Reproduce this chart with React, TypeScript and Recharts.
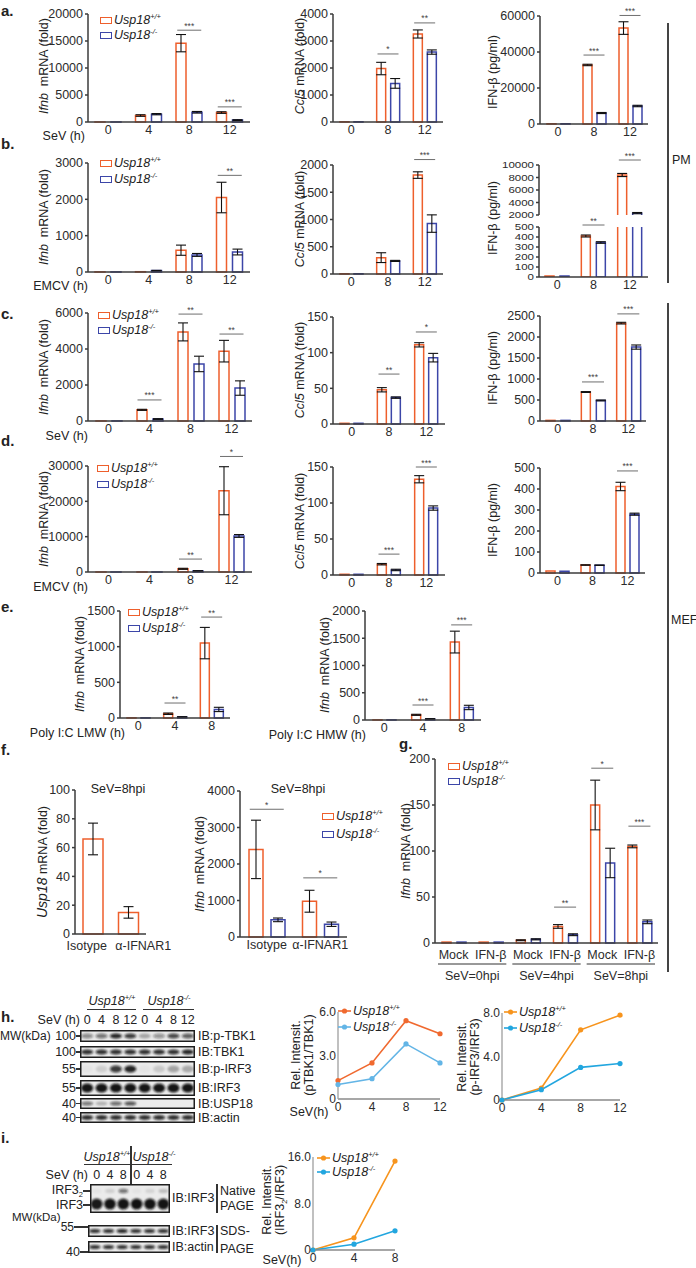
import React from 'react';
import { BarChart, Bar, XAxis, YAxis, ErrorBar, ReferenceArea, LineChart, Line } from 'recharts';

const FONT = '"Liberation Sans", Arial, Helvetica, sans-serif';
const OR = '#EE5F2C';
const BL = '#3C46A8';
const AX = '#3b3b3b';

// ---------------- data ----------------
const cat4 = ['0', '4', '8', '12'];
const cat3 = ['0', '8', '12'];
const catE = ['0', '4', '8'];

const a1Wt = [3, 1200, 14600, 1750];
const a1Ko = [3, 1450, 1800, 350];
const a1EWt = [0, 150, 1600, 150];
const a1EKo = [0, 120, 150, 80];
const a1Sig = ['', '', '***', '***'];
const a1SigY = [0, 0, 17000, 2800];
const a1Ticks = [0, 5000, 10000, 15000, 20000];

const a2Wt = [8, 1980, 3260];
const a2Ko = [8, 1430, 2590];
const a2EWt = [0, 230, 150];
const a2EKo = [0, 180, 80];
const a2Sig = ['', '*', '**'];
const a2SigY = [0, 2520, 3670];
const a2Ticks = [0, 1000, 2000, 3000, 4000];

const a3Wt = [150, 32800, 53300];
const a3Ko = [150, 6100, 10000];
const a3EWt = [0, 400, 3500];
const a3EKo = [0, 300, 400];
const a3Sig = ['', '***', '***'];
const a3SigY = [0, 38300, 60300];
const a3Ticks = [0, 20000, 40000, 60000];

const b1Wt = [3, 8, 600, 2050];
const b1Ko = [3, 40, 470, 550];
const b1EWt = [0, 0, 140, 420];
const b1EKo = [0, 5, 40, 80];
const b1Sig = ['', '', '', '**'];
const b1SigY = [0, 0, 0, 2660];
const b1Ticks = [0, 1000, 2000, 3000];

const b2Wt = [5, 300, 1815];
const b2Ko = [5, 240, 925];
const b2EWt = [0, 90, 60];
const b2EKo = [0, 10, 160];
const b2Sig = ['', '', '***'];
const b2SigY = [0, 0, 2100];
const b2Ticks = [0, 500, 1000, 1500, 2000];

const b3Wt = [10, 410, 8400];
const b3Ko = [10, 345, 2300];
const b3EWt = [0, 10, 250];
const b3EKo = [0, 8, 100];
const b3SigLow = ['', '**', ''];
const b3SigLowY = [0, 520, 0];
const b3SigUp = ['', '', '***'];
const b3SigUpY = [0, 0, 10800];
const b3TicksLow = [0, 100, 200, 300, 400, 500];
const b3TicksUp = [2000, 4000, 6000, 8000, 10000];
const b3Break = 2000;

const c1Wt = [3, 620, 4950, 3880];
const c1Ko = [3, 110, 3170, 1830];
const c1EWt = [0, 30, 500, 600];
const c1EKo = [0, 20, 430, 400];
const c1Sig = ['', '***', '**', '**'];
const c1SigY = [0, 1170, 5940, 4830];
const c1Ticks = [0, 2000, 4000, 6000];

const c2Wt = [1, 48, 111];
const c2Ko = [1, 37, 93];
const c2EWt = [0, 3, 3];
const c2EKo = [0, 1, 6];
const c2Sig = ['', '**', '*'];
const c2SigY = [0, 70, 129];
const c2Ticks = [0, 50, 100, 150];

const c3Wt = [15, 690, 2330];
const c3Ko = [15, 490, 1760];
const c3EWt = [0, 10, 20];
const c3EKo = [0, 10, 50];
const c3Sig = ['', '***', '***'];
const c3SigY = [0, 930, 2550];
const c3Ticks = [0, 500, 1000, 1500, 2000, 2500];

const d1Wt = [3, 3, 900, 23000];
const d1Ko = [3, 3, 300, 10200];
const d1EWt = [0, 0, 150, 6800];
const d1EKo = [0, 0, 80, 400];
const d1Sig = ['', '', '**', '*'];
const d1SigY = [0, 0, 3660, 32700];
const d1Ticks = [0, 10000, 20000, 30000];

const d2Wt = [1, 15, 133];
const d2Ko = [1, 7, 93];
const d2EWt = [0, 1, 5];
const d2EKo = [0, 1, 3];
const d2Sig = ['', '***', '***'];
const d2SigY = [0, 29, 150];
const d2Ticks = [0, 50, 100, 150];

const d3Wt = [10, 38, 412];
const d3Ko = [8, 37, 280];
const d3EWt = [0, 1, 20];
const d3EKo = [0, 1, 5];
const d3Sig = ['', '', '***'];
const d3SigY = [0, 0, 486];
const d3Ticks = [0, 100, 200, 300, 400, 500];

const e1Wt = [2, 60, 1050];
const e1Ko = [2, 15, 120];
const e1EWt = [0, 10, 220];
const e1EKo = [0, 3, 30];
const e1Sig = ['', '**', '**'];
const e1SigY = [0, 210, 1415];
const e1Ticks = [0, 500, 1000, 1500];

const e2Wt = [2, 95, 1430];
const e2Ko = [2, 20, 230];
const e2EWt = [0, 10, 200];
const e2EKo = [0, 5, 40];
const e2Sig = ['', '***', '***'];
const e2SigY = [0, 275, 1745];
const e2Ticks = [0, 500, 1000, 1500, 2000];

const fCats = ['Isotype', 'α-IFNAR1'];
const f1Val = [66, 15];
const f1Err = [11, 4];
const f1Ticks = [0, 20, 40, 60, 80, 100];

const f2Wt = [2400, 980];
const f2Ko = [470, 350];
const f2EWt = [800, 300];
const f2EKo = [50, 60];
const f2Sig = ['*', '*'];
const f2SigY = [3500, 1620];
const f2Ticks = [0, 1000, 2000, 3000, 4000];

const gKeys = ['M0', 'I0', 'M4', 'I4', 'M8', 'I8'];
const gLabels = ['Mock', 'IFN-β', 'Mock', 'IFN-β', 'Mock', 'IFN-β'];
const gGroups = ['SeV=0hpi', 'SeV=4hpi', 'SeV=8hpi'];
const gWt = [1, 1, 3, 18, 150, 105];
const gKo = [1, 1, 4, 9, 87, 23];
const gEWt = [0, 0, 0.5, 2, 27, 1.5];
const gEKo = [0, 0, 0.6, 1, 16, 2];
const gSig = ['', '', '', '**', '*', '***'];
const gSigY = [0, 0, 0, 39, 190, 127];
const gTicks = [0, 50, 100, 150, 200];

const hX = [0, 4, 8, 12];
const h1Wt = [1.27, 2.49, 5.4, 4.5];
const h1Ko = [1.0, 1.4, 3.8, 2.49];
const h2Wt = [0, 1.1, 6.45, 7.8];
const h2Ko = [0, 0.95, 3.0, 3.35];
const iX = [0, 4, 8];
const iWt = [0, 2.1, 15.3];
const iKo = [0, 1.0, 3.3];

const hLanes = ['0', '4', '8', '12', '0', '4', '8', '12'];
const hPTBK1 = [0.45, 0.55, 0.9, 0.8, 0.3, 0.4, 0.75, 0.65];
const hTBK1 = [0.85, 0.85, 0.85, 0.85, 0.85, 0.85, 0.85, 0.9];
const hPIRF3 = [0.03, 0.12, 0.8, 0.9, 0.03, 0.15, 0.3, 0.28];
const hIRF3 = [0.97, 0.97, 0.97, 0.97, 0.97, 0.97, 0.97, 0.97];
const hUSP18 = [0.55, 0.25, 0.6, 0.7, 0, 0, 0, 0];
const hActin = [0.85, 0.85, 0.85, 0.85, 0.85, 0.85, 0.85, 0.85];
const hRowLabels = ['IB:p-TBK1', 'IB:TBK1', 'IB:p-IRF3', 'IB:IRF3', 'IB:USP18', 'IB:actin'];
const hRowMW = ['100', '100', '55', '55', '40', '40'];
const hRowVals = [hPTBK1, hTBK1, hPIRF3, hIRF3, hUSP18, hActin];

const iLanes = ['0', '4', '8', '0', '4', '8'];
const iDimer = [0.04, 0.12, 0.55, 0.04, 0.1, 0.2];
const iMono = [0.95, 0.97, 0.97, 0.98, 0.97, 0.97];
const iSdsIRF3 = [0.85, 0.85, 0.9, 0.85, 0.85, 0.85];
const iSdsActin = [0.85, 0.85, 0.85, 0.85, 0.85, 0.85];

// ---------------- helpers ----------------
function Txt({ x, y, children, a = 'l', s = 12.5, b = false, it = false, rot = false, c = '#222', center = false }: any) {
  const tx = a === 'l' ? '0' : a === 'm' ? '-50%' : '-100%';
  const style: any = {
    position: 'absolute', left: x, top: y,
    transform: rot ? 'translate(-50%,-50%) rotate(-90deg)' : `translate(${tx},-50%)`,
    fontSize: s, fontWeight: b ? 700 : 400, fontStyle: it ? 'italic' : 'normal',
    whiteSpace: 'nowrap', lineHeight: center ? '13px' : 1, color: c, fontFamily: FONT,
    textAlign: center ? 'center' : 'left',
  };
  return <div style={style}>{children}</div>;
}

function Sup({ children }: any) {
  return <sup style={{ fontSize: '0.6em', verticalAlign: 'top', position: 'relative', top: '-0.15em' }}>{children}</sup>;
}

function Usp({ g }: any) {
  return <span><i>Usp18</i><Sup><i>{g}</i></Sup></span>;
}

function LegendItem({ x, y, color, g }: any) {
  return (
    <div style={{ position: 'absolute', left: x, top: y - 8, height: 16, display: 'flex', alignItems: 'center', fontFamily: FONT, fontSize: 12.5, color: '#222', whiteSpace: 'nowrap' }}>
      <div style={{ width: 10, height: 5, border: `1.5px solid ${color}`, background: '#fff', marginRight: 2 }} />
      <Usp g={g} />
    </div>
  );
}

function LineLegendItem({ x, y, color, g }: any) {
  return (
    <div style={{ position: 'absolute', left: x, top: y - 8, height: 16, display: 'flex', alignItems: 'center', fontFamily: FONT, fontSize: 12.5, color: '#222', whiteSpace: 'nowrap' }}>
      <svg width={13} height={8} style={{ marginRight: 2 }}>
        <line x1={0} x2={13} y1={4} y2={4} stroke={color} strokeWidth={1.6} />
        <circle cx={6.5} cy={4} r={2.6} fill={color} />
      </svg>
      <Usp g={g} />
    </div>
  );
}

function HLine({ x1, x2, y, c = '#333', w = 1 }: any) {
  return <div style={{ position: 'absolute', left: x1, top: y - w / 2, width: x2 - x1, height: w, background: c }} />;
}
function VLine({ x, y1, y2, c = '#333', w = 1 }: any) {
  return <div style={{ position: 'absolute', left: x - w / 2, top: y1, width: w, height: y2 - y1, background: c }} />;
}

const axisTick = { fontSize: 12.5, fill: '#2b2b2b', fontFamily: FONT };

// condensed y ticks for the crowded broken axis
const condTick = (t: any) => (
  <text x={t.x} y={t.y} textAnchor="end" dominantBaseline="central" fontSize={11.5} fill="#2b2b2b" fontFamily={FONT}
    transform={`translate(0,${t.y}) scale(1,0.78) translate(0,${-t.y})`}>
    {t.payload?.value}
  </text>
);

function BarPanel(p: any) {
  const YW = 56, MT = 24;
  const MR = p.mr ?? 8;
  const MB = p.hideX ? 10 : 0;
  const XH = p.hideX ? 0 : (p.xh ?? 22);
  const W = p.x1 - p.x0 + YW + MR;
  const H = p.y0 - p.yT + MT + XH + MB;
  const data = p.cats.map((c: string, i: number) => ({
    c,
    wt: p.wt[i],
    ko: p.ko ? p.ko[i] : null,
    ewt: p.ewt ? p.ewt[i] : null,
    eko: p.eko ? p.eko[i] : null,
  }));
  const gw = p.ko ? 2 * p.bs + p.gap : p.bs;
  const sigShape = (txt: string) => (r: any) => {
    const cx = r.x + r.width / 2;
    const yy = r.y;
    return (
      <g>
        <line x1={cx - gw / 2 + 1} x2={cx + gw / 2 - 1} y1={yy} y2={yy} stroke="#6e6e6e" strokeWidth={1} />
        <text x={cx} y={yy - 1.5} textAnchor="middle" fontSize={8.5} fill="#444" fontFamily={FONT}>{txt}</text>
      </g>
    );
  };
  const openShape = (color: string) => (r: any) => {
    let { x, y, width, height } = r;
    if (height == null || isNaN(height)) return <g />;
    if (height < 0) { y += height; height = -height; }
    return <path d={`M${x},${y + height} V${y} H${x + width} V${y + height}`} fill="#fff" stroke={color} strokeWidth={1.5} />;
  };
  return (
    <div style={{ position: 'absolute', left: p.x0 - YW, top: p.yT - MT }}>
      <BarChart width={W} height={H} data={data} margin={{ top: MT, right: MR, left: 0, bottom: MB }} barGap={p.gap} barSize={p.bs}>
        <XAxis dataKey="c" hide={!!p.hideX} height={XH || 1} interval={0} tickLine={false} tickSize={0} tickMargin={3}
          axisLine={{ stroke: AX, strokeWidth: 1.5 }} tick={p.tick ?? axisTick} />
        <YAxis type="number" width={YW} domain={p.domain} ticks={p.ticks} allowDataOverflow={!!p.overflow} interval={0}
          tickSize={3} tickMargin={2} axisLine={{ stroke: AX, strokeWidth: 1.5 }} tickLine={{ stroke: AX, strokeWidth: 1.5 }} tick={p.yTick ?? axisTick} />
        <Bar dataKey="wt" fill="#fff" stroke={OR} strokeWidth={1.5} isAnimationActive={false} shape={p.open ? openShape(OR) : undefined}>
          <ErrorBar dataKey="ewt" width={5} stroke="#111" strokeWidth={1.1} direction="y" />
        </Bar>
        {p.ko ? (
          <Bar dataKey="ko" fill="#fff" stroke={BL} strokeWidth={1.5} isAnimationActive={false} shape={p.open ? openShape(BL) : undefined}>
            <ErrorBar dataKey="eko" width={5} stroke="#111" strokeWidth={1.1} direction="y" />
          </Bar>
        ) : null}
        {p.sig
          ? p.cats.map((c: string, i: number) =>
              p.sig[i] ? (
                <ReferenceArea key={'s' + i} x1={c} x2={c} y1={p.sigY[i]} y2={p.sigY[i]} ifOverflow="visible" shape={sigShape(p.sig[i])} />
              ) : null
            )
          : null}
      </BarChart>
    </div>
  );
}

function LinePanel(p: any) {
  const YW = 40, MT = 10, MR = 10, XH = 20;
  const W = p.x1 - p.x0 + YW + MR;
  const H = p.y0 - p.yT + MT + XH;
  const data = p.xs.map((x: number, i: number) => ({ x, wt: p.wt[i], ko: p.ko[i] }));
  const tk = { fontSize: 12, fill: '#2b2b2b', fontFamily: FONT };
  return (
    <div style={{ position: 'absolute', left: p.x0 - YW, top: p.yT - MT }}>
      <LineChart width={W} height={H} data={data} margin={{ top: MT, right: MR, left: 0, bottom: 0 }}>
        <XAxis type="number" dataKey="x" domain={p.xd} ticks={p.xs} interval={0} tickLine={false} tickSize={0} tickMargin={3}
          axisLine={{ stroke: '#8a8a8a', strokeWidth: 1.4 }} tick={tk} height={XH} />
        <YAxis type="number" domain={p.yd} ticks={p.yt} interval={0} tickFormatter={(v: number) => (v === 0 ? '0' : v.toFixed(1))}
          tickLine={false} tickSize={0} tickMargin={2} axisLine={{ stroke: '#a5a5a5', strokeWidth: 1.4 }} width={YW} tick={tk} />
        <Line dataKey="wt" stroke={p.c1} strokeWidth={1.6} dot={{ r: 2.6, fill: p.c1, stroke: p.c1, strokeWidth: 0 }} isAnimationActive={false} />
        <Line dataKey="ko" stroke={p.c2} strokeWidth={1.6} dot={{ r: 2.6, fill: p.c2, stroke: p.c2, strokeWidth: 0 }} isAnimationActive={false} />
      </LineChart>
    </div>
  );
}

function BlotRow({ x, y, w, h, vals, bh, id }: any) {
  const n = vals.length;
  const sp = w / n;
  return (
    <svg style={{ position: 'absolute', left: x, top: y }} width={w} height={h}>
      <defs>
        <filter id={id} x="-20%" y="-50%" width="140%" height="200%"><feGaussianBlur stdDeviation="0.9" /></filter>
      </defs>
      <rect x={0.75} y={0.75} width={w - 1.5} height={h - 1.5} fill="#ebebeb" stroke="#1e1e1e" strokeWidth={1.5} />
      <g filter={`url(#${id})`}>
        {vals.map((v: number, i: number) => (
          <ellipse key={i} cx={sp * (i + 0.5)} cy={h / 2} rx={sp * 0.42} ry={bh / 2} fill="#111" opacity={v} />
        ))}
      </g>
    </svg>
  );
}

function NativeBlot({ x, y, w, h }: any) {
  const n = iMono.length;
  const sp = w / n;
  return (
    <svg style={{ position: 'absolute', left: x, top: y }} width={w} height={h}>
      <defs>
        <filter id="nb" x="-20%" y="-50%" width="140%" height="200%"><feGaussianBlur stdDeviation="1" /></filter>
      </defs>
      <rect x={0.75} y={0.75} width={w - 1.5} height={h - 1.5} fill="#ebebeb" stroke="#1e1e1e" strokeWidth={1.5} />
      <g filter="url(#nb)">
        {iDimer.map((v, i) => (
          <ellipse key={'d' + i} cx={sp * (i + 0.5)} cy={7} rx={sp * 0.36} ry={2.2} fill="#111" opacity={v} />
        ))}
        {iMono.map((v, i) => (
          <ellipse key={'m' + i} cx={sp * (i + 0.5)} cy={20} rx={sp * 0.44} ry={5.5} fill="#111" opacity={v} />
        ))}
      </g>
    </svg>
  );
}

function IfnbLabel() {
  return <span><i>Ifnb</i>&nbsp; mRNA (fold)</span>;
}
function Ccl5Label() {
  return <span><i>Ccl5</i> mRNA (fold)</span>;
}

// ---------------- app ----------------
export default function App() {
  const gBand = (658 - 435) / 6;
  const gTick = (t: any) => {
    const i = t.index ?? t.payload?.index ?? 0;
    return (
      <g>
        <text x={t.x} y={t.y + 13} textAnchor="middle" fontSize={12.5} fill="#2b2b2b" fontFamily={FONT}>{gLabels[i]}</text>
        {i % 2 === 0 ? (
          <g>
            <line x1={t.x - gBand / 2 + 3} x2={t.x + gBand * 1.5 - 3} y1={t.y + 18} y2={t.y + 18} stroke="#333" strokeWidth={1} />
            <text x={t.x + gBand / 2} y={t.y + 34} textAnchor="middle" fontSize={12.5} fill="#2b2b2b" fontFamily={FONT}>{gGroups[i / 2]}</text>
          </g>
        ) : null}
      </g>
    );
  };
  const fDx = [-6, 15];
  const f1Tick = (t: any) => {
    const i = t.index ?? t.payload?.index ?? 0;
    return (
      <text x={t.x + fDx[i]} y={t.y + 13} textAnchor="middle" fontSize={12.5} fill="#2b2b2b" fontFamily={FONT}>{fCats[i]}</text>
    );
  };
  const hBoxX = 80, hBoxW = 115;
  const hRowTop = [1030, 1046, 1061, 1080, 1098, 1112];
  const hRowH = [12, 12, 16, 16, 11, 11];
  const hBandH = [5, 5, 7, 9, 4, 5];
  const iBoxX = 90, iBoxW = 80;

  return (
    <div style={{ position: 'absolute', left: 0, top: 0, width: 696, height: 1268, background: '#fff', overflow: 'hidden', fontFamily: FONT }}>
      {/* panel letters */}
      <Txt x={1} y={10} s={15} b>a.</Txt>
      <Txt x={1} y={143} s={15} b>b.</Txt>
      <Txt x={1} y={313} s={15} b>c.</Txt>
      <Txt x={1} y={440} s={15} b>d.</Txt>
      <Txt x={1} y={606} s={15} b>e.</Txt>
      <Txt x={1} y={749} s={15} b>f.</Txt>
      <Txt x={399} y={743} s={15} b>g.</Txt>
      <Txt x={1} y={1016} s={15} b>h.</Txt>
      <Txt x={1} y={1137} s={15} b>i.</Txt>

      {/* ---- row a ---- */}
      <BarPanel x0={88} x1={250} yT={14} y0={122} cats={cat4} wt={a1Wt} ko={a1Ko} ewt={a1EWt} eko={a1EKo} sig={a1Sig} sigY={a1SigY}
        domain={[0, 20000]} ticks={a1Ticks} bs={10} gap={6} />
      <Txt x={44} y={66} rot><IfnbLabel /></Txt>
      <Txt x={85} y={136} a="r">SeV (h)</Txt>
      <LegendItem x={100} y={20} color={OR} g="+/+" />
      <LegendItem x={100} y={35} color={BL} g="-/-" />

      <BarPanel x0={333} x1={443} yT={14} y0={122} cats={cat3} wt={a2Wt} ko={a2Ko} ewt={a2EWt} eko={a2EKo} sig={a2Sig} sigY={a2SigY}
        domain={[0, 4000]} ticks={a2Ticks} bs={9} gap={5} />
      <Txt x={300} y={66} rot><Ccl5Label /></Txt>

      <BarPanel x0={540} x1={648} yT={16} y0={124} cats={cat3} wt={a3Wt} ko={a3Ko} ewt={a3EWt} eko={a3EKo} sig={a3Sig} sigY={a3SigY}
        domain={[0, 60000]} ticks={a3Ticks} bs={9} gap={5} />
      <Txt x={493} y={72} rot>IFN-β (pg/ml)</Txt>

      {/* ---- row b ---- */}
      <BarPanel x0={88} x1={250} yT={163} y0={272} cats={cat4} wt={b1Wt} ko={b1Ko} ewt={b1EWt} eko={b1EKo} sig={b1Sig} sigY={b1SigY}
        domain={[0, 3000]} ticks={b1Ticks} bs={10} gap={6} />
      <Txt x={44} y={217} rot><IfnbLabel /></Txt>
      <Txt x={88} y={286} a="r">EMCV (h)</Txt>
      <LegendItem x={100} y={163} color={OR} g="+/+" />
      <LegendItem x={100} y={179} color={BL} g="-/-" />

      <BarPanel x0={333} x1={443} yT={165} y0={274} cats={cat3} wt={b2Wt} ko={b2Ko} ewt={b2EWt} eko={b2EKo} sig={b2Sig} sigY={b2SigY}
        domain={[0, 2000]} ticks={b2Ticks} bs={9} gap={5} />
      <Txt x={300} y={219} rot><Ccl5Label /></Txt>

      <BarPanel x0={539} x1={648} yT={165} y0={215} cats={cat3}
        wt={b3Wt.map((v) => (v >= b3Break ? v : null))} ko={b3Ko.map((v) => (v >= b3Break ? v : null))}
        ewt={b3EWt.map((v, i) => (b3Wt[i] >= b3Break ? v : null))} eko={b3EKo.map((v, i) => (b3Ko[i] >= b3Break ? v : null))}
        sig={b3SigUp} sigY={b3SigUpY} domain={[2000, 10000]} ticks={b3TicksUp} bs={9} gap={6} hideX open yTick={condTick} />
      <BarPanel x0={539} x1={648} yT={227} y0={277} cats={cat3} wt={b3Wt} ko={b3Ko} ewt={b3EWt} eko={b3EKo} sig={b3SigLow} sigY={b3SigLowY}
        domain={[0, 500]} ticks={b3TicksLow} bs={9} gap={6} overflow yTick={condTick} />
      <Txt x={493} y={218} rot>IFN-β (pg/ml)</Txt>

      {/* ---- row c ---- */}
      <BarPanel x0={88} x1={252} yT={313} y0={421} cats={cat4} wt={c1Wt} ko={c1Ko} ewt={c1EWt} eko={c1EKo} sig={c1Sig} sigY={c1SigY}
        domain={[0, 6000]} ticks={c1Ticks} bs={10} gap={6} />
      <Txt x={44} y={367} rot><IfnbLabel /></Txt>
      <Txt x={88} y={436} a="r">SeV (h)</Txt>
      <LegendItem x={98} y={315} color={OR} g="+/+" />
      <LegendItem x={98} y={330} color={BL} g="-/-" />

      <BarPanel x0={333} x1={445} yT={317} y0={424} cats={cat3} wt={c2Wt} ko={c2Ko} ewt={c2EWt} eko={c2EKo} sig={c2Sig} sigY={c2SigY}
        domain={[0, 150]} ticks={c2Ticks} bs={9} gap={5} />
      <Txt x={300} y={370} rot><Ccl5Label /></Txt>

      <BarPanel x0={540} x1={646} yT={316} y0={421} cats={cat3} wt={c3Wt} ko={c3Ko} ewt={c3EWt} eko={c3EKo} sig={c3Sig} sigY={c3SigY}
        domain={[0, 2500]} ticks={c3Ticks} bs={9} gap={6} />
      <Txt x={493} y={368} rot>IFN-β (pg/ml)</Txt>

      {/* ---- row d ---- */}
      <BarPanel x0={88} x1={252} yT={466} y0={572} cats={cat4} wt={d1Wt} ko={d1Ko} ewt={d1EWt} eko={d1EKo} sig={d1Sig} sigY={d1SigY}
        domain={[0, 30000]} ticks={d1Ticks} bs={10} gap={5} />
      <Txt x={44} y={519} rot><IfnbLabel /></Txt>
      <Txt x={88} y={587} a="r">EMCV (h)</Txt>
      <LegendItem x={97} y={468} color={OR} g="+/+" />
      <LegendItem x={97} y={484} color={BL} g="-/-" />

      <BarPanel x0={333} x1={445} yT={467} y0={575} cats={cat3} wt={d2Wt} ko={d2Ko} ewt={d2EWt} eko={d2EKo} sig={d2Sig} sigY={d2SigY}
        domain={[0, 150]} ticks={d2Ticks} bs={9} gap={5} />
      <Txt x={300} y={521} rot><Ccl5Label /></Txt>

      <BarPanel x0={540} x1={645} yT={468} y0={573} cats={cat3} wt={d3Wt} ko={d3Ko} ewt={d3EWt} eko={d3EKo} sig={d3Sig} sigY={d3SigY}
        domain={[0, 500]} ticks={d3Ticks} bs={9} gap={5} />
      <Txt x={493} y={520} rot>IFN-β (pg/ml)</Txt>

      {/* PM / MEF brackets */}
      <VLine x={668} y1={23} y2={283} c="#444" w={2} />
      <Txt x={672} y={160}>PM</Txt>
      <VLine x={668} y1={303} y2={972} c="#444" w={2} />
      <Txt x={671} y={620}>MEF</Txt>

      {/* ---- row e ---- */}
      <BarPanel x0={120} x1={230} yT={611} y0={718} cats={catE} wt={e1Wt} ko={e1Ko} ewt={e1EWt} eko={e1EKo} sig={e1Sig} sigY={e1SigY}
        domain={[0, 1500]} ticks={e1Ticks} bs={9} gap={5} />
      <Txt x={80} y={664} rot><IfnbLabel /></Txt>
      <Txt x={125} y={733} a="r">Poly I:C LMW (h)</Txt>
      <LegendItem x={128} y={612} color={OR} g="+/+" />
      <LegendItem x={128} y={628} color={BL} g="-/-" />

      <BarPanel x0={365} x1={481} yT={611} y0={720} cats={catE} wt={e2Wt} ko={e2Ko} ewt={e2EWt} eko={e2EKo} sig={e2Sig} sigY={e2SigY}
        domain={[0, 2000]} ticks={e2Ticks} bs={9} gap={5} />
      <Txt x={325} y={665} rot><IfnbLabel /></Txt>
      <Txt x={366} y={735} a="r">Poly I:C HMW (h)</Txt>

      {/* ---- row f ---- */}
      <BarPanel x0={75} x1={146} yT={790} y0={934} cats={fCats} wt={f1Val} ewt={f1Err}
        domain={[0, 100]} ticks={f1Ticks} bs={20} gap={4} tick={f1Tick} mr={34} />
      <Txt x={42} y={862} rot><span><i style={{ fontSize: 14 }}>Usp18</i> mRNA (fold)</span></Txt>
      <Txt x={118} y={789} a="m">SeV=8hpi</Txt>

      <BarPanel x0={240} x1={347} yT={791} y0={937} cats={fCats} wt={f2Wt} ko={f2Ko} ewt={f2EWt} eko={f2EKo} sig={f2Sig} sigY={f2SigY}
        domain={[0, 4000]} ticks={f2Ticks} bs={14} gap={8} />
      <Txt x={200} y={864} rot><IfnbLabel /></Txt>
      <Txt x={298} y={789} a="m">SeV=8hpi</Txt>
      <LegendItem x={322} y={816} color={OR} g="+/+" />
      <LegendItem x={322} y={834} color={BL} g="-/-" />

      {/* ---- row g ---- */}
      <BarPanel x0={435} x1={658} yT={759} y0={943} cats={gKeys} wt={gWt} ko={gKo} ewt={gEWt} eko={gEKo} sig={gSig} sigY={gSigY}
        domain={[0, 200]} ticks={gTicks} bs={9} gap={6} xh={45} tick={gTick} />
      <Txt x={406} y={851} rot><IfnbLabel /></Txt>
      <LegendItem x={448} y={766} color={OR} g="+/+" />
      <LegendItem x={448} y={781} color={BL} g="-/-" />

      {/* ---- row h: blot ---- */}
      <Txt x={112} y={1001} a="m"><Usp g="+/+" /></Txt>
      <Txt x={169} y={1001} a="m"><Usp g="-/-" /></Txt>
      <HLine x1={87} x2={136} y={1009} />
      <HLine x1={143} x2={194} y={1009} />
      <Txt x={80} y={1020} a="r">SeV (h)</Txt>
      {hLanes.map((l, i) => (
        <Txt key={'hl' + i} x={hBoxX + (hBoxW / hLanes.length) * (i + 0.5)} y={1020} a="m">{l}</Txt>
      ))}
      {hRowVals.map((v, i) => (
        <React.Fragment key={'hr' + i}>
          <BlotRow x={hBoxX} y={hRowTop[i]} w={hBoxW} h={hRowH[i]} vals={v} bh={hBandH[i]} id={'hb' + i} />
          <Txt x={198} y={hRowTop[i] + hRowH[i] / 2}>{hRowLabels[i]}</Txt>
          <Txt x={76} y={hRowTop[i] + hRowH[i] / 2} a="r">{hRowMW[i]}</Txt>
          <HLine x1={76} x2={80} y={hRowTop[i] + hRowH[i] / 2} w={1.2} />
        </React.Fragment>
      ))}
      <Txt x={0} y={hRowTop[0] + hRowH[0] / 2} s={12}>MW(kDa)</Txt>

      {/* ---- row h: line charts ---- */}
      <LinePanel x0={338} x1={440} yT={1012} y0={1099} xs={hX} xd={[0, 12]} wt={h1Wt} ko={h1Ko} yd={[0, 6]} yt={[0, 3, 6]} c1="#F0692F" c2="#63B5E6" />
      <Txt x={303} y={1055} rot center>Rel. Intensit.<br />(pTBK1/TBK1)</Txt>
      <Txt x={309} y={1112} a="m">SeV(h)</Txt>
      <LineLegendItem x={338} y={1011} color="#F0692F" g="+/+" />
      <LineLegendItem x={338} y={1027} color="#63B5E6" g="-/-" />

      <LinePanel x0={502} x1={620} yT={1013} y0={1100} xs={hX} xd={[0, 12]} wt={h2Wt} ko={h2Ko} yd={[0, 8]} yt={[0, 4, 8]} c1="#F7941D" c2="#22A6DF" />
      <Txt x={469} y={1057} rot center>Rel. Intensit.<br />(p-IRF3/IRF3)</Txt>
      <LineLegendItem x={504} y={1012} color="#F7941D" g="+/+" />
      <LineLegendItem x={504} y={1028} color="#22A6DF" g="-/-" />

      {/* ---- row i: blot ---- */}
      <Txt x={107} y={1157} a="m"><Usp g="+/+" /></Txt>
      <Txt x={154} y={1157} a="m"><Usp g="-/-" /></Txt>
      <HLine x1={84} x2={172} y={1164} />
      <VLine x={131} y1={1146} y2={1186} w={1.3} />
      <Txt x={88} y={1175} a="r">SeV (h)</Txt>
      {iLanes.map((l, i) => (
        <Txt key={'il' + i} x={iBoxX + (iBoxW / iLanes.length) * (i + 0.5)} y={1175} a="m">{l}</Txt>
      ))}
      <NativeBlot x={iBoxX} y={1184} w={iBoxW} h={29} />
      <Txt x={83} y={1191} a="r">IRF3<sub style={{ fontSize: '0.6em' }}>2</sub></Txt>
      <HLine x1={83} x2={90} y={1191} w={1.2} />
      <Txt x={83} y={1205} a="r">IRF3</Txt>
      <HLine x1={83} x2={90} y={1205} w={1.2} />
      <Txt x={172} y={1198}>IB:IRF3</Txt>
      <VLine x={217} y1={1184} y2={1213} w={1.3} />
      <Txt x={220} y={1191}>Native</Txt>
      <Txt x={220} y={1206}>PAGE</Txt>

      <Txt x={12} y={1218} s={11.5}>MW(kDa)</Txt>
      <Txt x={74} y={1227} a="r" s={12}>55</Txt>
      <HLine x1={74} x2={88} y={1227} w={1.2} />
      <BlotRow x={88} y={1225} w={82} h={12} vals={iSdsIRF3} bh={4} id="is1" />
      <Txt x={172} y={1231}>IB:IRF3</Txt>
      <Txt x={80} y={1252} a="r">40</Txt>
      <HLine x1={80} x2={88} y={1252} w={1.2} />
      <BlotRow x={88} y={1241} w={82} h={12} vals={iSdsActin} bh={4} id="is2" />
      <Txt x={172} y={1247}>IB:actin</Txt>
      <VLine x={217} y1={1225} y2={1253} w={1.3} />
      <Txt x={220} y={1231}>SDS-</Txt>
      <Txt x={220} y={1249}>PAGE</Txt>

      {/* ---- row i: line chart ---- */}
      <LinePanel x0={313} x1={395} yT={1157} y0={1250} xs={iX} xd={[0, 8]} wt={iWt} ko={iKo} yd={[0, 16]} yt={[0, 8, 16]} c1="#F7941D" c2="#22A6DF" />
      <Txt x={276} y={1200} rot center>Rel. Intensit.<br />(IRF3<sub style={{ fontSize: '0.6em' }}>2</sub>/IRF3)</Txt>
      <Txt x={282} y={1260} a="m">SeV(h)</Txt>
      <LineLegendItem x={317} y={1158} color="#F7941D" g="+/+" />
      <LineLegendItem x={317} y={1172} color="#22A6DF" g="-/-" />
    </div>
  );
}
